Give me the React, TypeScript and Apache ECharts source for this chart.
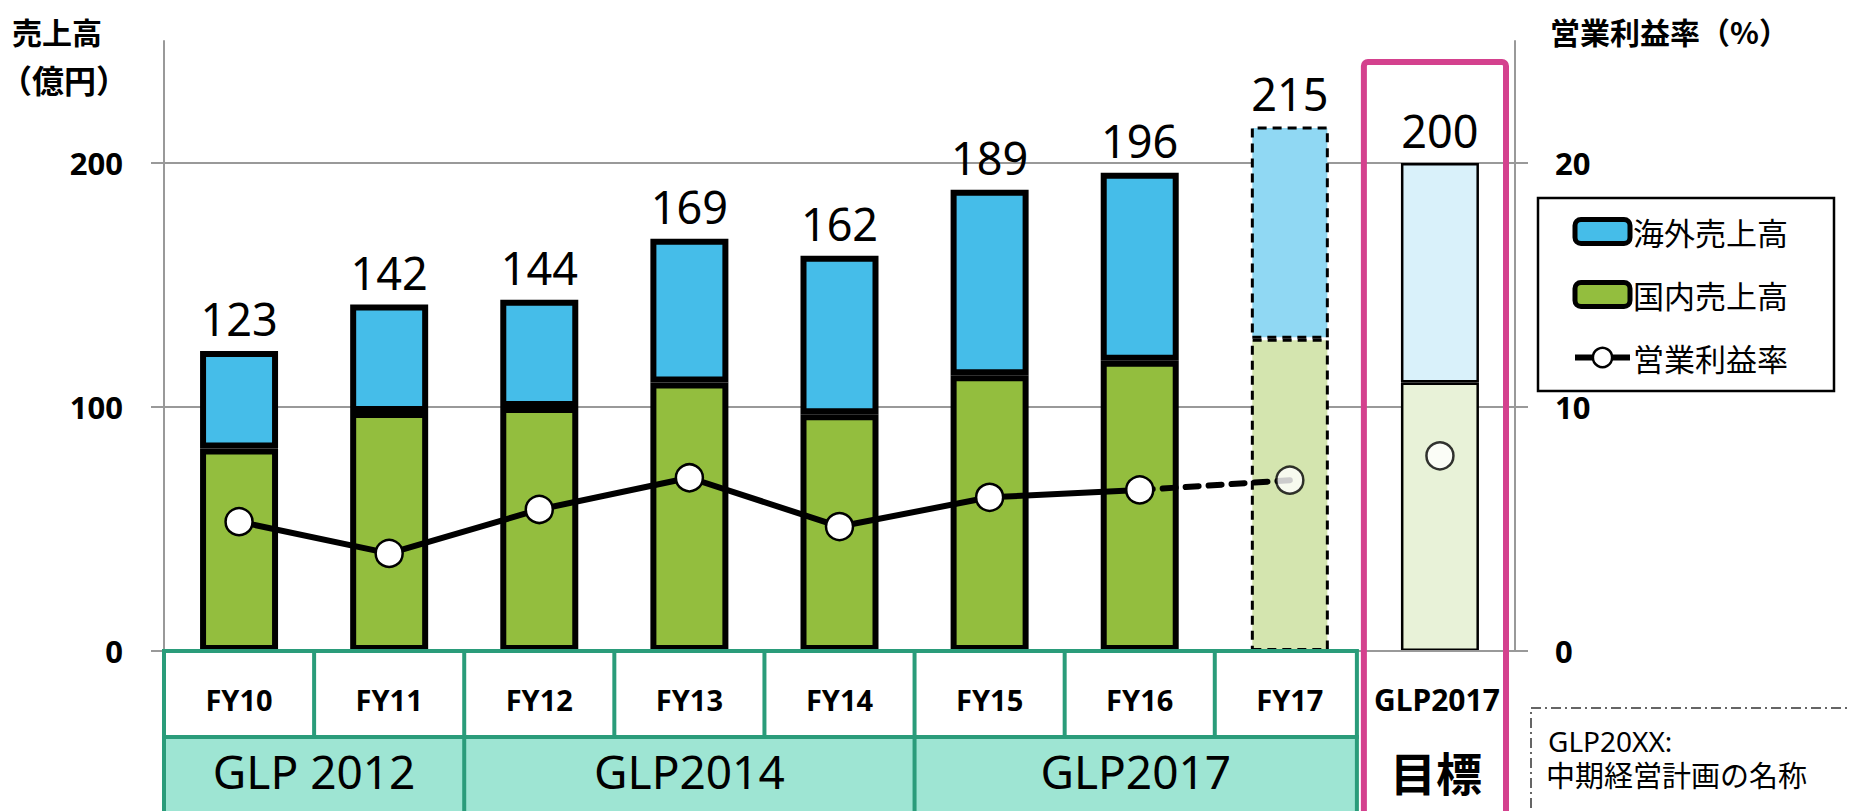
import React, { useEffect, useRef } from "react";
import * as echarts from "echarts";

const categories = ["FY10", "FY11", "FY12", "FY13", "FY14", "FY15", "FY16", "FY17", "GLP2017"];
const domesticSales = [83, 98, 100, 110, 97, 113, 119, 128, 110];
const totalSales = [123, 142, 144, 169, 162, 189, 196, 215, 200];
const overseasSales = totalSales.map((t, i) => t - domesticSales[i]);
const opMarginActual = [5.3, 4.0, 5.8, 7.1, 5.1, 6.3, 6.6];
const opMarginForecast = 7.0;
const opMarginTarget = 8.0;
const planGroups = [
  { name: "GLP 2012", from: 0, to: 1 },
  { name: "GLP2014", from: 2, to: 4 },
  { name: "GLP2017", from: 5, to: 7 },
];
const leftTicks = [0, 100, 200];
const rightTicks = [0, 10, 20];

const W = 1851;
const H = 811;
const GRID_L = 164;
const GRID_R = 1515;
const GRID_T = 41;
const GRID_B = 651;
const CJK = '"Noto Sans CJK JP", "Noto Sans", sans-serif';
const LAT = '"Noto Sans", "Noto Sans CJK JP", sans-serif';

const BLUE = "#45BDE9";
const GREEN = "#93BE3E";
const BLUE_F = "#90D8F3";
const GREEN_F = "#D4E5AF";
const BLUE_T = "#D9F1FA";
const GREEN_T = "#E8F2D8";
const TEAL = "#2A9C7A";
const TEAL_FILL = "#9EE5D3";
const PINK = "#D4418E";
const BW = 6;

export default function App() {
  const ref = useRef<HTMLDivElement>(null);
  useEffect(() => {
    document.body.style.margin = "0";
    const chart = echarts.init(ref.current!, null, { renderer: "svg" });
    const n = categories.length;
    const catW = (GRID_R - GRID_L) / n;
    const xb = (i: number) => GRID_L + i * catW;

    const styleFor = (i: number, base: string, fc: string, tc: string) => {
      if (i === 7) return { color: fc, borderColor: "#000", borderWidth: 3, borderType: [9, 6] as any };
      if (i === 8) return { color: tc, borderColor: "#000", borderWidth: 2.5 };
      return { color: base, borderColor: "#000", borderWidth: BW };
    };

    const graphics: any[] = [];
    const tableRight = xb(8) - 8;
    const row1B = 737;
    graphics.push({
      type: "rect",
      shape: { x: GRID_L, y: row1B, width: tableRight - GRID_L, height: H - row1B + 20 },
      style: { fill: TEAL_FILL, stroke: TEAL, lineWidth: 4 },
      z: 10,
    });
    graphics.push({
      type: "rect",
      shape: { x: GRID_L, y: GRID_B, width: tableRight - GRID_L, height: row1B - GRID_B },
      style: { fill: "rgba(0,0,0,0)", stroke: TEAL, lineWidth: 4 },
      z: 11,
    });
    for (let i = 1; i < 8; i++) {
      graphics.push({
        type: "line",
        shape: { x1: xb(i), y1: GRID_B, x2: xb(i), y2: row1B },
        style: { stroke: TEAL, lineWidth: 4 },
        z: 11,
      });
    }
    categories.forEach((c, i) => {
      graphics.push({
        type: "text",
        x: i === 8 ? xb(i) + catW / 2 - 3 : xb(i) + catW / 2,
        y: 699,
        style: {
          text: c,
          fill: "#000",
          font: `bold ${i === 8 ? 30 : 29}px ${LAT}`,
          textAlign: "center",
          textVerticalAlign: "middle",
        },
        z: 12,
      });
    });
    planGroups.forEach((g, gi) => {
      if (gi > 0) {
        graphics.push({
          type: "line",
          shape: { x1: xb(g.from), y1: row1B, x2: xb(g.from), y2: H + 10 },
          style: { stroke: TEAL, lineWidth: 4 },
          z: 11,
        });
      }
      const x0 = xb(g.from);
      const x1 = g.to === 7 ? tableRight : xb(g.to + 1);
      graphics.push({
        type: "text",
        x: (x0 + x1) / 2,
        y: 771,
        style: {
          text: g.name,
          fill: "#000",
          font: `normal 46px ${LAT}`,
          textAlign: "center",
          textVerticalAlign: "middle",
        },
        z: 12,
      });
    });
    graphics.push({
      type: "rect",
      shape: { x: xb(8) - 1, y: 62, width: catW - 8, height: H, r: 4 },
      style: { fill: "rgba(0,0,0,0)", stroke: PINK, lineWidth: 6 },
      z: 20,
    });
    graphics.push({
      type: "text",
      x: xb(8) + catW / 2 - 4,
      y: 771,
      style: {
        text: "目標",
        fill: "#000",
        font: `bold 46px ${CJK}`,
        textAlign: "center",
        textVerticalAlign: "middle",
      },
      z: 12,
    });
    graphics.push({
      type: "text",
      x: 12,
      y: 31,
      style: { text: "売上高", fill: "#000", font: `bold 30px ${CJK}`, textVerticalAlign: "middle" },
    });
    graphics.push({
      type: "text",
      x: 0,
      y: 79,
      style: { text: "（億円）", fill: "#000", font: `bold 32px ${CJK}`, textVerticalAlign: "middle" },
    });
    graphics.push({
      type: "text",
      x: 1550,
      y: 31,
      style: { text: "営業利益率（%）", fill: "#000", font: `bold 30px ${CJK}`, textVerticalAlign: "middle" },
    });
    graphics.push({
      type: "rect",
      shape: { x: 1531, y: 708, width: 400, height: 200 },
      style: { fill: "rgba(0,0,0,0)", stroke: "#333", lineWidth: 1.5, lineDash: [10, 4, 2, 4] },
    });
    graphics.push({
      type: "text",
      x: 1548,
      y: 741,
      style: { text: "GLP20XX:", fill: "#000", font: `normal 28px ${LAT}`, textVerticalAlign: "middle" },
    });
    graphics.push({
      type: "text",
      x: 1546,
      y: 774,
      style: { text: "中期経営計画の名称", fill: "#000", font: `normal 29px ${CJK}`, textVerticalAlign: "middle" },
    });

    const solidLine = categories.map((_, i) => (i < opMarginActual.length ? opMarginActual[i] : "-"));
    const dashLine = categories.map((_, i) =>
      i === 6 ? opMarginActual[6] : i === 7 ? opMarginForecast : "-"
    );
    const extraPts = categories.map((_, i) => (i === 7 ? opMarginForecast : i === 8 ? opMarginTarget : "-"));

    const marker = { color: "#fff", borderColor: "#000", borderWidth: 2.5 };

    chart.setOption({
      animation: false,
      grid: { left: GRID_L, right: W - GRID_R, top: GRID_T, bottom: H - GRID_B, containLabel: false },
      legend: {
        orient: "vertical",
        left: 1538,
        top: 198,
        padding: [18, 46, 18, 34],
        itemWidth: 55,
        itemHeight: 24,
        itemGap: 32,
        borderColor: "#000",
        borderWidth: 2.5,
        textStyle: { fontFamily: CJK, fontSize: 31, color: "#000", padding: [0, 0, 0, -2] },
        data: [
          { name: "海外売上高", itemStyle: { color: BLUE, borderColor: "#000", borderWidth: 5 } },
          { name: "国内売上高", itemStyle: { color: GREEN, borderColor: "#000", borderWidth: 5 } },
          { name: "営業利益率", lineStyle: { color: "#000", width: 6 }, itemStyle: marker },
        ],
      },
      xAxis: {
        type: "category",
        data: categories,
        axisLine: { show: true, lineStyle: { color: "#999", width: 2 } },
        axisTick: { show: false },
        axisLabel: { show: false },
        z: 5,
      },
      yAxis: [
        {
          type: "value",
          min: 0,
          max: 250,
          interval: 100,
          axisLine: { show: true, lineStyle: { color: "#999", width: 2 } },
          axisTick: { show: true, length: 13, lineStyle: { color: "#999", width: 2 }, customValues: leftTicks },
          axisLabel: {
            customValues: leftTicks,
            margin: 41,
            fontFamily: LAT,
            fontWeight: "bold",
            fontSize: 31,
            color: "#000",
          },
          splitLine: { show: true, lineStyle: { color: "#999", width: 2 } },
        },
        {
          type: "value",
          min: 0,
          max: 25,
          interval: 10,
          position: "right",
          axisLine: { show: true, lineStyle: { color: "#999", width: 2 } },
          axisTick: { show: true, length: 13, lineStyle: { color: "#999", width: 2 }, customValues: rightTicks },
          axisLabel: {
            customValues: rightTicks,
            margin: 40,
            fontFamily: LAT,
            fontWeight: "bold",
            fontSize: 31,
            color: "#000",
          },
          splitLine: { show: false },
        },
      ],
      series: [
        {
          name: "国内売上高",
          type: "bar",
          stack: "sales",
          barWidth: 78,
          itemStyle: { color: GREEN, borderColor: "#000", borderWidth: BW },
          data: domesticSales.map((v, i) => ({ value: v, itemStyle: styleFor(i, GREEN, GREEN_F, GREEN_T) })),
          z: 2,
        },
        {
          name: "海外売上高",
          type: "bar",
          stack: "sales",
          barWidth: 78,
          itemStyle: { color: BLUE, borderColor: "#000", borderWidth: BW },
          label: {
            show: true,
            position: "top",
            distance: 10,
            fontFamily: LAT,
            fontSize: 45,
            color: "#000",
            formatter: (p: any) => String(totalSales[p.dataIndex]),
          },
          data: overseasSales.map((v, i) => ({ value: v, itemStyle: styleFor(i, BLUE, BLUE_F, BLUE_T) })),
          z: 2,
        },
        {
          name: "営業利益率",
          type: "line",
          yAxisIndex: 1,
          data: solidLine,
          symbol: "circle",
          symbolSize: 27,
          lineStyle: { color: "#000", width: 6 },
          itemStyle: marker,
          z: 6,
        },
        {
          name: "営業利益率(見込)",
          type: "line",
          yAxisIndex: 1,
          data: dashLine,
          showSymbol: false,
          symbol: "none",
          lineStyle: { color: "#000", width: 6, type: [13, 10], cap: "round" },
          z: 5,
        },
        {
          name: "営業利益率(点)",
          type: "scatter",
          yAxisIndex: 1,
          data: extraPts,
          symbol: "circle",
          symbolSize: 27,
          itemStyle: marker,
          z: 7,
        },
      ],
      graphic: graphics,
    });
    return () => chart.dispose();
  }, []);
  return <div ref={ref} style={{ width: W, height: H }} />;
}
